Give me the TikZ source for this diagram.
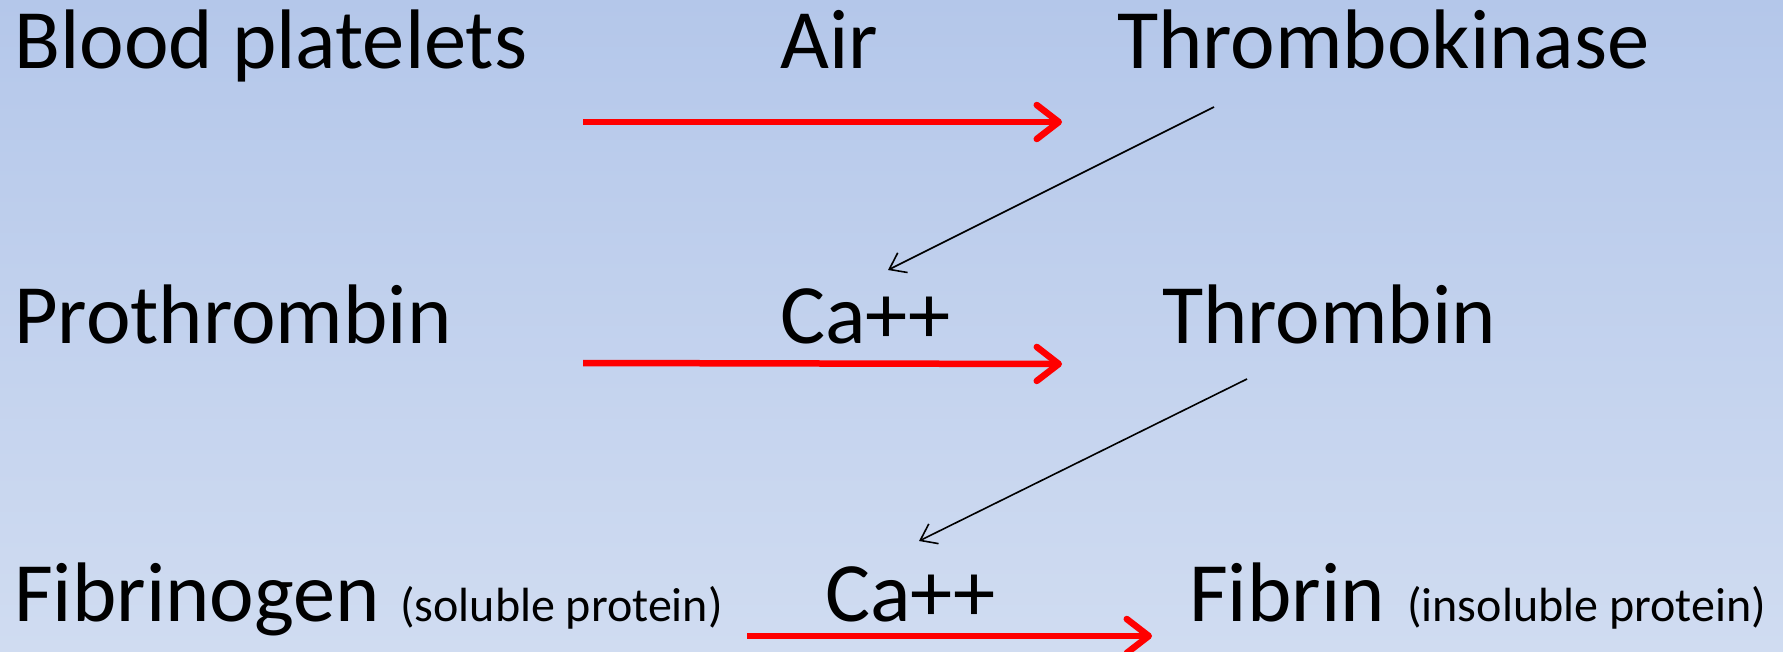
\documentclass[tikz,border=0pt]{standalone}
\usepackage{fontspec}
\setmainfont{Carlito}
\usetikzlibrary{arrows.meta}
\definecolor{bgtop}{RGB}{180,199,234}
\definecolor{bgbot}{RGB}{208,220,241}
\definecolor{redarr}{RGB}{255,0,0}
\tikzset{
  big/.style={anchor=base west,inner sep=0pt,font=\fontsize{84.5}{100}\selectfont},
  small/.style={anchor=base west,inner sep=0pt,font=\fontsize{48}{56}\selectfont},
  redarrow/.style={draw=redarr,line width=6.5pt,-{Straight Barb[length=22pt,width=34pt,line cap=round,line join=round]}},
  thinarrow/.style={draw=black,line width=1.6pt,-{Straight Barb[length=15pt,width=22pt]}}
}
\begin{document}
\begin{tikzpicture}[x=1pt,y=-1pt]
\shade[top color=bgtop,bottom color=bgbot] (0,0) rectangle (1783,651);
\useasboundingbox (0,0) rectangle (1783,651);
% row 1
\node[big] (bp) at (14,68) {Blood platelets};
\node[big] (air) at (780,68) {Air};
\node[big] (tk) at (1117,68) {Thrombokinase};
% row 2
\node[big] (pt) at (14,343) {Prothrombin};
\node[big] (ca1) at (780,343) {Ca++};
\node[big] (th) at (1162,343) {Thrombin};
% row 3
\node[big] (fg) at (14,621) {Fibrinogen};
\node[small] (sp) at (400,621) {(soluble protein)};
\node[big] (ca2) at (825,621) {Ca++};
\node[big] (fb) at (1189,621) {Fibrin};
\node[small] (ip) at (1407,621) {(insoluble protein)};
% arrow end points
\coordinate (r1s) at (583,122);
\coordinate (r1e) at (1062,122);
\coordinate (r2s) at (583,363);
\coordinate (r2e) at (1062,364);
\coordinate (r3s) at (747,636);
\coordinate (r3e) at (1152,636);
\coordinate (b1s) at (1214,107);
\coordinate (b1e) at (888,270);
\coordinate (b2s) at (1247,379);
\coordinate (b2e) at (919,541);
\draw[redarrow] (r1s) -- (r1e);
\draw[redarrow] (r2s) -- (r2e);
\draw[redarrow] (r3s) -- (r3e);
\draw[thinarrow] (b1s) -- (b1e);
\draw[thinarrow] (b2s) -- (b2e);
\end{tikzpicture}
\end{document}
